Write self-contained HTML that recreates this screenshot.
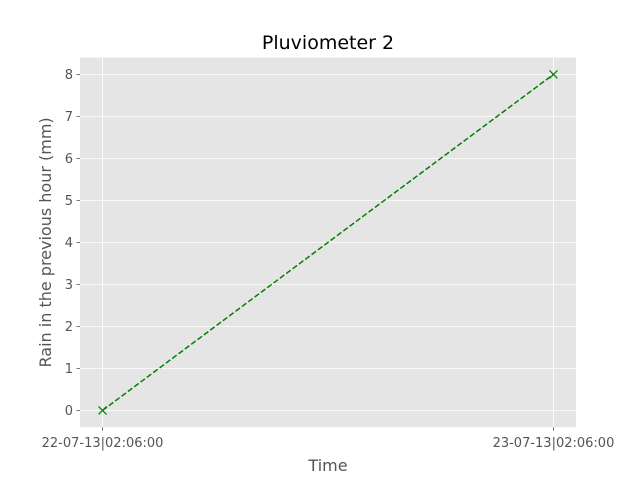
<!DOCTYPE html>
<html><head><meta charset="utf-8"><style>
body{margin:0;background:#fff;}
svg{display:block;font-family:"DejaVu Sans","Liberation Sans",sans-serif;}
</style></head><body>
<svg id="chart" width="640" height="480"></svg>
<script>
const categories = ["22-07-13|02:06:00", "23-07-13|02:06:00"];
const rainValues = [0, 8];
const yTicks = [0,1,2,3,4,5,6,7,8];

const NS = "http://www.w3.org/2000/svg";
const svg = document.getElementById("chart");
const L=80, R=576, T=57.6, B=427.2;
const xmin=-0.05, xmax=1.05, ymin=-0.4, ymax=8.4;
function xs(i){return L+(i-xmin)/(xmax-xmin)*(R-L);}
function ys(v){return B-(v-ymin)/(ymax-ymin)*(B-T);}
function mk(tag, attrs, parent){const e=document.createElementNS(NS,tag);for(const k in attrs)e.setAttribute(k,attrs[k]);(parent||svg).appendChild(e);return e;}

const bg = mk("rect",{x:L,y:T,width:R-L,height:B-T,fill:"#e5e5e5"});



yTicks.forEach(v=>{
  const g = mk("line",{x1:L,x2:R,y1:ys(v),y2:ys(v),stroke:"#fff","stroke-width":0.8});
  
  
  const tk = mk("line",{x1:L-3.5,x2:L,y1:ys(v),y2:ys(v),stroke:"#555","stroke-width":0.8});
  
  
  const t = mk("text",{x:L-7,y:ys(v)+4.5,"text-anchor":"end","font-size":13,fill:"#555"});
  t.textContent=v;
  
  
});
categories.forEach((c,i)=>{
  const g = mk("line",{x1:xs(i),x2:xs(i),y1:T,y2:B,stroke:"#fff","stroke-width":0.8});
  
  
  const tk = mk("line",{x1:xs(i),x2:xs(i),y1:B,y2:B+3.5,stroke:"#555","stroke-width":0.8});
  
  
  const t = mk("text",{x:xs(i),y:B+20,"text-anchor":"middle","font-size":13,fill:"#555"});
  t.textContent=c;
  
  
});

const pts = rainValues.map((v,i)=>xs(i)+","+ys(v)).join(" ");
const line = mk("polyline",{points:pts,fill:"none",stroke:"#008000","stroke-width":1.5,"stroke-dasharray":"5.5,2.4"});


rainValues.forEach((v,i)=>{
  const x=xs(i), y=ys(v), s=4;
  const m = mk("path",{d:`M${x-s},${y-s}L${x+s},${y+s}M${x-s},${y+s}L${x+s},${y-s}`,stroke:"#008000","stroke-width":1.2,fill:"none"});
  
  
});

const title = mk("text",{x:(L+R)/2,y:49,"text-anchor":"middle","font-size":19,fill:"#000"});
title.textContent="Pluviometer 2";


const xl = mk("text",{x:(L+R)/2,y:471,"text-anchor":"middle","font-size":16,fill:"#555"});
xl.textContent="Time";


const yl = mk("text",{x:0,y:0,"text-anchor":"middle","font-size":16,fill:"#555",transform:`translate(51,${(T+B)/2}) rotate(-90)`});
yl.textContent="Rain in the previous hour (mm)";


</script>
</body></html>
